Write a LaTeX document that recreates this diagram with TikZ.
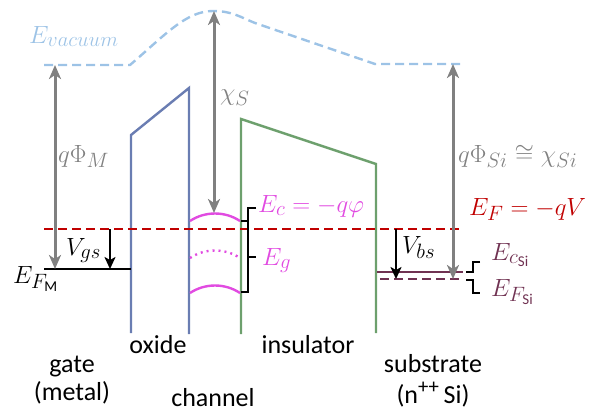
\documentclass[tikz,border=0pt]{standalone}
\usepackage{fontspec}
\setmainfont{Carlito}
\usetikzlibrary{arrows.meta}
\DeclareMathSizes{26}{26}{20.74}{15}
\definecolor{vac}{RGB}{157,195,230}
\definecolor{arrgray}{RGB}{128,128,128}
\definecolor{oxc}{RGB}{106,125,178}
\definecolor{insc}{RGB}{109,160,109}
\definecolor{fred}{RGB}{192,0,0}
\definecolor{mag}{RGB}{225,75,225}
\definecolor{sip}{RGB}{112,50,82}
\tikzset{
  lbl/.style={font=\fontsize{26}{30}\selectfont, inner sep=0pt},
  wall/.style={line width=2.4pt, line join=miter},
  grayarr/.style={arrgray, line width=3pt, {Stealth[length=14pt,width=12pt,inset=4pt]}-{Stealth[length=14pt,width=12pt,inset=4pt]}},
  blackarr/.style={black, line width=2.4pt, -{Stealth[length=12pt,width=11pt,inset=3pt]}},
  dashline/.style={line width=2.4pt, dash pattern=on 9pt off 5pt},
  brk/.style={black, line width=1.4pt},
}
\begin{document}
\begin{tikzpicture}[x=1pt,y=-1pt]
\useasboundingbox (0,0) rectangle (592,413);
% vacuum level
\coordinate (vacL) at (44,65);
\coordinate (vacA) at (130,65);
\coordinate (vacP) at (213,11);
\coordinate (vacB) at (255,23);
\coordinate (vacC) at (375,64);
\coordinate (vacR) at (465,64);
\draw[vac, dashline] (vacL) -- (vacA) .. controls (165,35) and (186,11) .. (vacP)
   .. controls (232,11) and (240,17) .. (vacB) -- (vacC) -- (vacR);
\node[lbl, anchor=base west, text=vac] (evac) at (29,43) {$E_{vacuum}$};

% oxide
\coordinate (ox1) at (131,333);
\coordinate (ox2) at (131,135);
\coordinate (ox3) at (189,88);
\coordinate (ox4) at (189,334);
\draw[oxc, wall] (ox1) -- (ox2) -- (ox3) -- (ox4);
% insulator
\coordinate (in1) at (241,334);
\coordinate (in2) at (241,119);
\coordinate (in3) at (376,164);
\coordinate (in4) at (376,333);
\draw[insc, wall] (in1) -- (in2) -- (in3) -- (in4);

% Fermi level
\coordinate (efL) at (44,229);
\coordinate (efR) at (463,229);
\draw[fred, dashline] (efL) -- (efR);
\node[lbl, anchor=base west, text=fred] (eflbl) at (469,215) {$E_F=-qV$};

% gate metal Fermi level
\coordinate (fmL) at (44,269);
\coordinate (fmR) at (131,269);
\draw[black, line width=2.4pt] (fmL) -- (fmR);
\node[lbl, anchor=base west] (efm) at (13,283) {$E_{F_\mathrm{M}}$};

% channel bands
\coordinate (ecL) at (190,221);
\coordinate (ecR) at (240,221);
\draw[mag, line width=2.4pt] (ecL) .. controls (205,211) and (225,211) .. (ecR);
\coordinate (eiL) at (190,258);
\coordinate (eiR) at (240,258);
\draw[mag, line width=2.4pt, dash pattern=on 2pt off 4pt] (eiL) .. controls (205,248) and (225,248) .. (eiR);
\coordinate (evL) at (190,293);
\coordinate (evR) at (240,293);
\draw[mag, line width=2.4pt] (evL) .. controls (205,283) and (225,283) .. (evR);

% brackets in channel
\coordinate (b1a) at (256,208);
\coordinate (b1b) at (248,208);
\coordinate (b1c) at (248,221);
\coordinate (b1d) at (241,221);
\draw[brk] (b1a) -- (b1b) -- (b1c) -- (b1d);
\coordinate (b2a) at (248,221);
\coordinate (b2b) at (248,292);
\coordinate (b2c) at (241,292);
\coordinate (b2m) at (248,257);
\coordinate (b2t) at (256,257);
\draw[brk] (b2a) -- (b2b) -- (b2c);
\draw[brk] (b2m) -- (b2t);
\node[lbl, anchor=base west, text=mag] (eclbl) at (258,212) {$E_c=-q\varphi$};
\node[lbl, anchor=base west, text=mag] (eglbl) at (262,265) {$E_g$};

% substrate levels
\coordinate (csL) at (377,272);
\coordinate (csR) at (463,272);
\draw[sip, line width=2.4pt] (csL) -- (csR);
\coordinate (fsL) at (380,279);
\coordinate (fsR) at (463,279);
\draw[sip, dashline] (fsL) -- (fsR);
\coordinate (s1a) at (480,262);
\coordinate (s1b) at (473,262);
\coordinate (s1c) at (473,272);
\coordinate (s1d) at (466,272);
\draw[brk] (s1a) -- (s1b) -- (s1c) -- (s1d);
\coordinate (s2a) at (466,280);
\coordinate (s2b) at (473,280);
\coordinate (s2c) at (473,293);
\coordinate (s2d) at (480,293);
\draw[brk] (s2a) -- (s2b) -- (s2c) -- (s2d);
\node[lbl, anchor=base west, text=sip] (ecsi) at (491,260) {$E_{c_\mathrm{Si}}$};
\node[lbl, anchor=base west, text=sip] (efsi) at (491,296) {$E_{F_\mathrm{Si}}$};

% gray arrows
\coordinate (phiMt) at (55,65);
\coordinate (phiMb) at (55,269);
\draw[grayarr] (phiMt) -- (phiMb);
\node[lbl, anchor=base west, text=arrgray] (phiM) at (58,162) {$q\Phi_M$};
\coordinate (chit) at (214,11);
\coordinate (chib) at (214,213);
\draw[grayarr] (chit) -- (chib);
\node[lbl, anchor=base west, text=arrgray] (chiS) at (220,100) {$\chi_S$};
\coordinate (phiSt) at (453,64);
\coordinate (phiSb) at (453,279);
\draw[grayarr] (phiSt) -- (phiSb);
\node[lbl, anchor=base west, text=arrgray] (phiSi) at (458,162) {$q\Phi_{Si}\cong\chi_{Si}$};

% black voltage arrows
\coordinate (vgst) at (110,229);
\coordinate (vgsb) at (110,269);
\draw[blackarr] (vgst) -- (vgsb);
\node[lbl, anchor=base west] (vgs) at (66,255) {$V_{gs}$};
\coordinate (vbst) at (396,229);
\coordinate (vbsb) at (396,279);
\draw[blackarr] (vbst) -- (vbsb);
\node[lbl, anchor=base west] (vbs) at (402,253) {$V_{bs}$};

% region labels
\node[lbl, anchor=base] (oxide) at (158,353) {oxide};
\node[lbl, anchor=base] (insul) at (308,353) {insulator};
\node[lbl, anchor=base] (gate) at (72,372) {gate};
\node[lbl, anchor=base] (metal) at (72,400) {(metal)};
\node[lbl, anchor=base] (chan) at (213,406) {channel};
\node[lbl, anchor=base] (subs) at (433,372) {substrate};
\node[lbl, anchor=base] (nsi) at (433,403) {(n\textsuperscript{++}\,Si)};
\end{tikzpicture}
\end{document}
